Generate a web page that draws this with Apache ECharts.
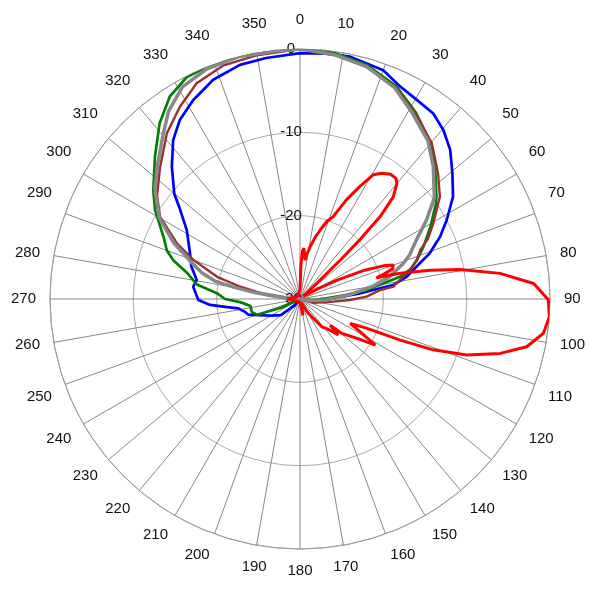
<!DOCTYPE html>
<html><head><meta charset="utf-8">
<script src="https://cdn.jsdelivr.net/npm/echarts@6/dist/echarts.min.js"></script>
<style>html,body{margin:0;padding:0;background:#fff}#c{width:600px;height:600px}</style>
</head><body><div id="c"></div>
<script>
// angle ticks (deg, clockwise from top) and radius ticks (dB)
const angleMin = 0, angleMax = 360, angleStep = 10;
const radiusTicks = [-30, -20, -10, 0];

// [angle (deg), level (dB)]
const bluePts = [
  [0,-0.5],[6,-0.4],[11.7,-0.3],[20,-0.8],[25.2,-1.8],[30.4,-2.3],[35.7,-2.6],[40.3,-3.4],[45.2,-4.6],
  [50.5,-6.3],[56.2,-7.9],[61.7,-10],[66,-11.6],[70.6,-13.5],[73.4,-15],[78.2,-16.9],[81.5,-18.7],
  [82.4,-20.3],[84.6,-22.8],[88.8,-26],[101,-28.4],[110,-30],[200,-30],[220,-29],[230,-27],[240,-26],
  [251,-24.1],[253.3,-23.5],[257,-23.2],[261.4,-22.5],[264,-21],[266.2,-19.2],[269.4,-17.8],
  [276.6,-17.1],[280.4,-17.4],[286.6,-16.4],[292.6,-15.7],[301.3,-14.1],[306.6,-12.1],[310,-10.3],
  [315.9,-7.9],[321.4,-5.6],[326.2,-4.1],[331.8,-2.9],[338.4,-1.7],[345.6,-1.0],[352,-0.8],[360,-0.5]
];
const greenPts = [
  [0,0],[8,-0.2],[16,-0.8],[24.5,-2.0],[32,-3.7],[39,-5.4],[45.6,-7.3],[53,-9.5],[55,-10.1],[61,-12.1],
  [67,-13.9],[71.5,-15.2],[75,-16.3],[77.4,-17.7],[79.3,-19.8],[82.3,-21.9],[85,-24.4],[88.5,-26.8],
  [95,-28.5],[105,-30],[238,-30],[245,-27.5],[250,-24.5],[255,-24],[262,-24],[267,-22.8],[270,-21],
  [274,-20],[278,-17.5],[283,-16.1],[287,-14.1],[290,-13],[294.5,-12.0],[301.5,-9.6],[306.5,-8.1],
  [314.5,-5.6],[321.4,-3.0],[327.3,-1.1],[333,-0.1],[338,0],[346,0],[354,0],[360,0]
];
const brownPts = [
  [0,0],[7.8,-0.4],[16,-1.0],[24.7,-2.2],[32.4,-3.9],[40.2,-5.5],[47.7,-7.6],[53.8,-9.2],[60.4,-11.6],
  [64.7,-13],[67.8,-14.4],[71.5,-15.2],[75.2,-16.3],[79.2,-17.8],[82.5,-18.7],[83.6,-20.3],[88,-22],
  [91.1,-24],[94.6,-26],[105.6,-28.3],[115,-30],[260,-30],[270,-29],[273,-28.4],[276.8,-26],
  [281.6,-22.7],[285,-19.7],[290.1,-16.4],[294.3,-13.8],[300.5,-10.5],[306,-8.8],[313.4,-6.9],
  [321.2,-4.5],[328,-2.8],[334.4,-1.3],[341.9,-0.5],[349.9,-0.3],[360,0]
];
const grayPts = [
  [0,0],[8,-0.4],[16,-1.0],[24,-2.2],[31,-3.9],[39,-5.6],[45,-7.4],[53,-9.8],[58,-12.1],[63,-14.3],
  [68,-15.8],[71,-16.9],[76,-18.9],[80,-21.1],[85,-24],[92,-26.8],[100,-29],[110,-30],[262,-30],
  [272,-29],[276,-27],[278,-24.5],[280,-22],[282,-19.5],[285,-17.8],[289,-16.1],[294,-13.4],
  [300,-10.5],[307,-8.2],[313,-6.6],[320,-4.4],[325,-2.5],[331,-0.9],[338,-0.2],[346,0],[354,-0.1],[360,0]
];
const redPts = [
  [0,-29],[1.5,-26],[3,-24.2],[4.5,-23.9],[6,-24.8],[7.5,-25.3],[9,-24.5],[11,-23.6],[14,-22.3],
  [16.5,-21.3],[19,-20.2],[22,-19.3],[25,-16.9],[28,-14.7],[30.5,-12.7],[33,-12],[36,-11.5],[38.5,-11.5],
  [40,-11.9],[42.4,-13.4],[44.2,-16.2],[45.3,-19.9],[46,-23.3],[47,-27.3],[50,-29.5],[55,-29.5],
  [60,-27.5],[63,-25],[66,-21.5],[68.5,-19],[70,-18.1],[72,-18.3],[73.5,-19.5],[74.5,-20.5],
  [75.6,-17.6],[77.5,-14],[79.5,-10.5],[82.7,-5.8],[86.2,-1.9],[90.2,-0.2],[94.1,0],[98,-0.5],
  [101.9,-2.2],[105.2,-5.1],[108.6,-8.9],[110.9,-12.9],[112.3,-17],[113.7,-21.3],[115.9,-23.3],
  [119,-21.5],[121.5,-19.4],[123.6,-21.1],[126.5,-22.5],[129.4,-23.5],[131,-25.2],[133.2,-23.7],
  [137,-25],[141.9,-25.8],[150,-28],[160,-29.5],[170,-28],[178,-29.5],[200,-29.5],[240,-29.5],
  [270,-28.5],[300,-29.5],[340,-29.5],[355,-29],[360,-29]
];

const chart = echarts.init(document.getElementById('c'));
const toPolar = pts => pts.map(p => [p[1], p[0]]);
const mk = (name, pts, color, width) => ({
  name, type: 'line', coordinateSystem: 'polar', showSymbol: false, symbol: 'none',
  smooth: false, data: toPolar(pts), lineStyle: { color, width }, itemStyle: { color }
});
const font = 'Liberation Sans, Arial, sans-serif';
chart.setOption({
  animation: false,
  backgroundColor: '#fff',
  polar: { center: [300, 299], radius: 250 },
  angleAxis: {
    type: 'value', min: angleMin, max: angleMax, interval: angleStep, startAngle: 90, clockwise: true,
    axisLine: { show: true, lineStyle: { color: '#999', width: 1 } },
    axisTick: { show: false },
    axisLabel: { color: '#111', fontSize: 15, fontFamily: font, margin: 14,
      align: 'center', verticalAlign: 'middle', padding: [0, 0, 8, 0],
      formatter: v => (v === 360 ? '' : String(v)) },
    splitLine: { show: true, lineStyle: { color: '#888', width: 1 } }
  },
  radiusAxis: {
    type: 'value', min: radiusTicks[0], max: radiusTicks[radiusTicks.length - 1], interval: 10,
    axisLine: { show: false }, axisTick: { show: false },
    axisLabel: { color: '#111', fontSize: 15, fontFamily: font, margin: 9, align: 'center', verticalAlign: 'middle' },
    splitLine: { show: true, lineStyle: { color: '#aaa', width: 1 } }
  },
  series: [
    mk('blue', bluePts, '#0000ff', 2.7),
    mk('green', greenPts, '#008000', 2.7),
    mk('brown', brownPts, '#993333', 2.4),
    mk('gray', grayPts, '#888888', 3.5),
    mk('red', redPts, '#ff0000', 3)
  ]
});
</script></body></html>
